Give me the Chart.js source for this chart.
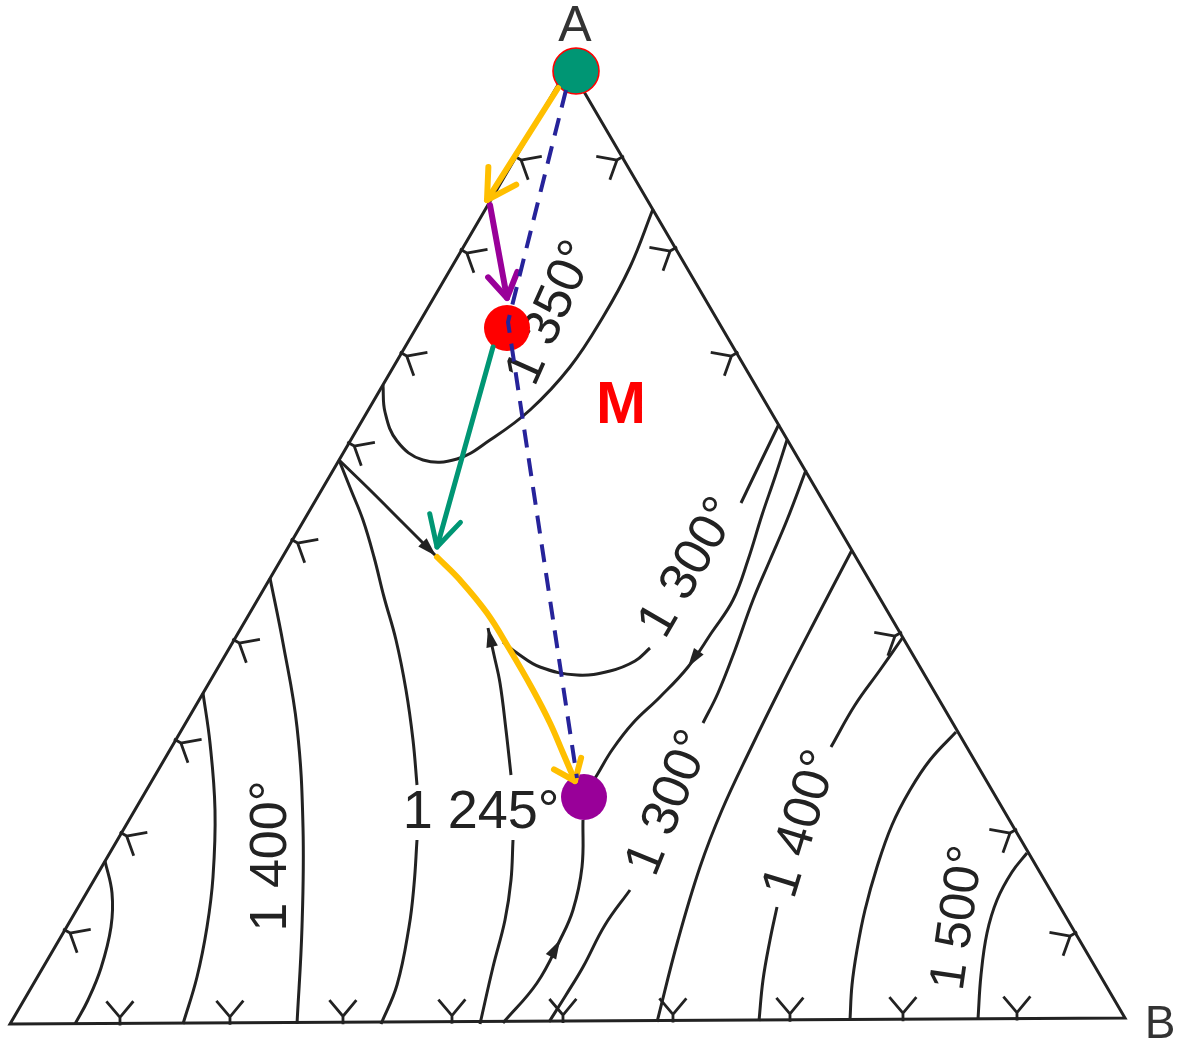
<!DOCTYPE html>
<html lang="en">
<head>
<meta charset="UTF-8">
<title>Ternary liquidus diagram A - B</title>
<script src="https://cdn.jsdelivr.net/npm/chart.js@4/dist/chart.umd.min.js"></script>
<style>
  html, body { margin: 0; padding: 0; background: #fff; }
  #wrap { width: 1180px; height: 1047px; }
</style>
</head>
<body>
<div id="wrap"><canvas id="diagram" width="1180" height="1047"></canvas></div>
<script>
// Triangle corners: A (top), B (bottom right), C (bottom left)
const corners = [[569, 66], [1125, 1018], [10, 1024]];

// tick marks ("Y" marks) along the three edges
const leftTicks = [157, 250, 353, 443, 540, 640, 740, 833, 930];   // y on edge C-A
const rightTicks = [157, 248, 353, 633, 830, 933];                  // y on edge A-B
const bottomTicks = [120, 230, 343, 452, 563, 673, 790, 903, 1017]; // x on edge C-B

// isotherms and boundary curves (black)
const iso1350 = [[653, 209], [630, 267], [603, 317], [570, 367], [530, 410], [490, 440], [457, 459], [423, 460], [397, 441], [385, 412], [383, 385]];
const isoLeft1 = [[105, 861], [112, 893], [111, 927], [101, 968], [88, 1000], [75, 1024]];
const isoLeft2 = [[203, 693], [210, 743], [215, 810], [213, 877], [207, 927], [197, 977], [183, 1024]];
const isoLeft3 = [[270, 578], [283, 643], [297, 727], [303, 827], [302, 927], [297, 1024]];
const iso1245Top = [[339, 460], [351, 490], [363, 520], [374, 557], [384, 597], [396, 640], [406, 690], [413, 740], [417, 785]];
const iso1245Bottom = [[417, 840], [414, 885], [409, 927], [397, 985], [381, 1024]];
const boundaryLeft = [[339, 460], [370, 490], [402, 522], [436, 556]];
const isoMidBottom = [[480, 1024], [493, 967], [505, 920], [511, 880], [513, 840]];
const isoMidTop = [[511, 775], [506, 730], [500, 683], [494, 655], [488, 628]];
const iso1300Arc = [[503, 642], [517, 653], [540, 667], [577, 675], [610, 671], [635, 661], [650, 648]];
const iso1300Top = [[741, 503], [752, 480], [765, 453], [779, 424]];
const boundaryRight = [[787, 440], [775, 477], [762, 515], [748, 560], [733, 600], [712, 632], [688, 667], [660, 697], [633, 723], [612, 750], [597, 775], [590, 786]];
const iso1300LowTop = [[806, 470], [787, 520], [770, 560], [753, 600], [735, 650], [718, 693], [703, 723]];
const iso1300LowBottom = [[630, 890], [605, 925], [583, 967], [566, 995], [549, 1022]];
const isoRight1 = [[852, 550], [817, 617], [783, 683], [750, 750], [722, 810], [700, 867], [678, 940], [657, 1022]];
const iso1400Top = [[903, 637], [880, 670], [855, 705], [831, 747]];
const iso1400Bottom = [[777, 907], [770, 940], [763, 980], [759, 1021]];
const isoRight2 = [[956, 732], [930, 760], [910, 790], [892, 825], [877, 867], [865, 910], [857, 950], [852, 985], [850, 1020]];
const iso1500 = [[1027, 853], [1012, 872], [997, 900], [987, 933], [981, 975], [978, 1019]];
const boundaryBottom = [[503, 1023], [537, 983], [560, 940], [573, 910], [582, 867], [583, 820]];

// crystallisation path (coloured)
const pathDashed = [[566, 90], [508, 322], [577, 778]];
const pathYellow1 = [[558, 88], [487, 200]];
const pathPurple = [[490, 205], [507, 298]];
const pathGreen = [[493, 347], [437, 547]];
const pathYellow2 = [[437, 557], [460, 580], [487, 613], [510, 650], [533, 690], [550, 723], [563, 753], [575, 781]];

// marked compositions
const pointA = [576, 71];
const pointM = [507, 328];
const pointE = [584, 797];

const FONT = '"Liberation Sans", Arial, sans-serif';
const labels = [
  { text: 'A', at: [575, 27], angle: 0, font: '50px ' + FONT, color: '#333' },
  { text: 'B', at: [1160, 1025], angle: 0, font: '46px ' + FONT, color: '#333' },
  { text: 'M', at: [621, 406], angle: 0, font: 'bold 60px ' + FONT, color: '#ff0000' },
  { text: '1 350°', at: [552, 313], angle: -66, font: '52px ' + FONT, color: '#222' },
  { text: '1 300°', at: [690, 568], angle: -60, font: '52px ' + FONT, color: '#222' },
  { text: '1 300°', at: [670, 803], angle: -68, font: '52px ' + FONT, color: '#222' },
  { text: '1 400°', at: [802, 824], angle: -73, font: '52px ' + FONT, color: '#222' },
  { text: '1 500°', at: [959, 918], angle: -82, font: '50px ' + FONT, color: '#222' },
  { text: '1 400°', at: [272, 856], angle: -90, font: '52px ' + FONT, color: '#222' },
  { text: '1 245°', at: [481, 813], angle: 0, font: '54px ' + FONT, color: '#222' }
];

const INK = '#222';
const toXY = pts => pts.map(([x, y]) => ({ x, y }));

function curve(pts, extra) {
  return Object.assign({
    data: toXY(pts),
    showLine: true,
    pointRadius: 0,
    borderColor: INK,
    borderWidth: 3,
    tension: 0.4,
    fill: false,
    clip: false,
    order: 5
  }, extra || {});
}

function colored(pts, color, width, arrow) {
  return curve(pts, {
    borderColor: color,
    borderWidth: width,
    borderCapStyle: 'round',
    order: 2,
    arrow: arrow
  });
}

function dot(p, color, border) {
  return {
    data: toXY([p]),
    showLine: false,
    pointRadius: 23,
    pointHoverRadius: 23,
    pointBackgroundColor: color,
    pointBorderColor: border || color,
    pointBorderWidth: border ? 1.6 : 0,
    clip: false,
    order: 3
  };
}

const blackArrow = at => ({ at: at, len: 20, spread: 17, filled: true });

// arrowheads at a point of a dataset, drawn right after that dataset
const arrowheads = {
  id: 'arrowheads',
  afterDatasetDraw(chart, args) {
    const ds = chart.data.datasets[args.index];
    if (!ds.arrow) return;
    const pts = args.meta.data;
    const i = ds.arrow.at != null ? ds.arrow.at : pts.length - 1;
    const tip = pts[i], from = pts[i - 1];
    const a = Math.atan2(tip.y - from.y, tip.x - from.x);
    const s = ds.arrow.spread * Math.PI / 180;
    const L = ds.arrow.len;
    const ctx = chart.ctx;
    ctx.save();
    ctx.beginPath();
    ctx.moveTo(tip.x - L * Math.cos(a - s), tip.y - L * Math.sin(a - s));
    ctx.lineTo(tip.x, tip.y);
    ctx.lineTo(tip.x - L * Math.cos(a + s), tip.y - L * Math.sin(a + s));
    if (ds.arrow.filled) {
      ctx.closePath();
      ctx.fillStyle = ds.borderColor;
      ctx.fill();
    } else {
      ctx.strokeStyle = ds.borderColor;
      ctx.lineWidth = ds.borderWidth;
      ctx.lineCap = 'round';
      ctx.lineJoin = 'round';
      ctx.stroke();
    }
    ctx.restore();
  }
};

// edge tick marks and text, under the data
const decorations = {
  id: 'decorations',
  beforeDatasetsDraw(chart) {
    const { ctx, scales: { x, y } } = chart;
    const px = ([u, v]) => [x.getPixelForValue(u), y.getPixelForValue(v)];
    const [A, B, C] = corners;
    const cen = px([(A[0] + B[0] + C[0]) / 3, (A[1] + B[1] + C[1]) / 3]);
    const lerp = (p, q, f) => [p[0] + (q[0] - p[0]) * f, p[1] + (q[1] - p[1]) * f];

    function tick(p, q, f) {
      const P = px(lerp(p, q, f));
      const P0 = px(p), P1 = px(q);
      const dx = P1[0] - P0[0], dy = P1[1] - P0[1];
      const d = Math.hypot(dx, dy);
      let nx = -dy / d, ny = dx / d;
      if ((cen[0] - P[0]) * nx + (cen[1] - P[1]) * ny < 0) { nx = -nx; ny = -ny; }
      const V = [P[0] + nx * 6, P[1] + ny * 6];
      const arm = (deg) => {
        const r = deg * Math.PI / 180;
        return [V[0] + 21 * (nx * Math.cos(r) - ny * Math.sin(r)), V[1] + 21 * (nx * Math.sin(r) + ny * Math.cos(r))];
      };
      const a1 = arm(40), a2 = arm(-40);
      ctx.beginPath();
      ctx.moveTo(P[0] - nx * 2, P[1] - ny * 2);
      ctx.lineTo(V[0], V[1]);
      ctx.moveTo(a1[0], a1[1]);
      ctx.lineTo(V[0], V[1]);
      ctx.lineTo(a2[0], a2[1]);
      ctx.stroke();
    }

    ctx.save();
    ctx.strokeStyle = INK;
    ctx.lineWidth = 2.8;
    ctx.lineJoin = 'miter';
    leftTicks.forEach(t => tick(C, A, (t - C[1]) / (A[1] - C[1])));
    rightTicks.forEach(t => tick(B, A, (t - B[1]) / (A[1] - B[1])));
    bottomTicks.forEach(t => tick(C, B, (t - C[0]) / (B[0] - C[0])));
    ctx.restore();

    labels.forEach(l => {
      const [lx, ly] = px(l.at);
      ctx.save();
      ctx.translate(lx, ly);
      ctx.rotate(l.angle * Math.PI / 180);
      ctx.font = l.font;
      ctx.fillStyle = l.color;
      ctx.textAlign = 'center';
      ctx.textBaseline = 'middle';
      ctx.fillText(l.text, 0, 0);
      ctx.restore();
    });
  }
};

new Chart(document.getElementById('diagram'), {
  type: 'scatter',
  data: {
    datasets: [
      curve([...corners, corners[0]], { tension: 0, borderWidth: 3, borderJoinStyle: 'miter' }),
      curve(iso1350),
      curve(isoLeft1),
      curve(isoLeft2),
      curve(isoLeft3),
      curve(iso1245Top),
      curve(iso1245Bottom),
      curve(boundaryLeft, { arrow: blackArrow(null) }),
      curve(isoMidBottom),
      curve(isoMidTop, { arrow: blackArrow(null) }),
      curve(iso1300Arc),
      curve(iso1300Top),
      curve(boundaryRight, { arrow: blackArrow(6) }),
      curve(iso1300LowTop),
      curve(iso1300LowBottom),
      curve(isoRight1),
      curve(iso1400Top),
      curve(iso1400Bottom),
      curve(isoRight2),
      curve(iso1500),
      curve(boundaryBottom, { arrow: blackArrow(2) }),
      dot(pointA, '#009674', '#ff0000'),
      dot(pointM, '#ff0000'),
      dot(pointE, '#990099'),
      colored(pathYellow1, '#ffbf00', 6, { len: 33, spread: 30 }),
      colored(pathPurple, '#990099', 6, { len: 28, spread: 32 }),
      colored(pathGreen, '#009674', 5, { len: 34, spread: 28 }),
      colored(pathYellow2, '#ffbf00', 6, { len: 24, spread: 38 }),
      curve(pathDashed, { tension: 0, borderColor: '#26239a', borderWidth: 4, borderDash: [18, 11], order: 1 })
    ]
  },
  options: {
    responsive: false,
    animation: false,
    events: [],
    layout: { padding: 0, autoPadding: false },
    scales: {
      x: { type: 'linear', min: 0, max: 1180, display: false },
      y: { type: 'linear', min: 0, max: 1047, reverse: true, display: false }
    },
    plugins: {
      legend: { display: false },
      tooltip: { enabled: false }
    }
  },
  plugins: [decorations, arrowheads]
});
</script>
</body>
</html>
